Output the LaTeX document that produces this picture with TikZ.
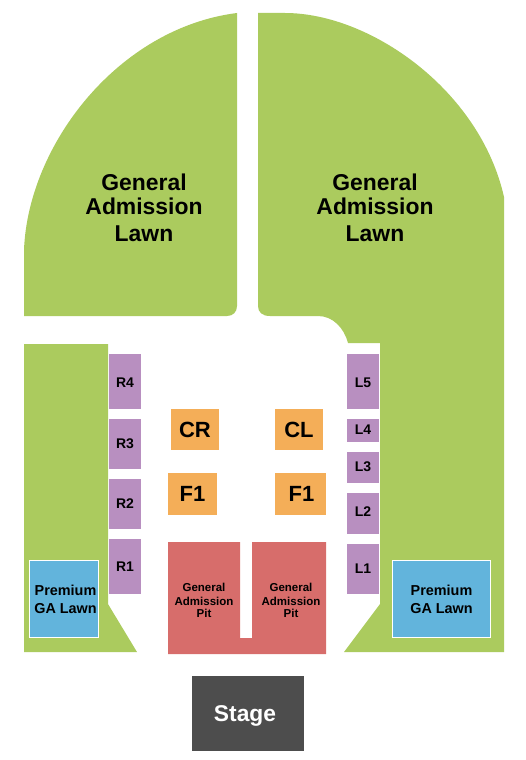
\documentclass[tikz,border=0pt]{standalone}
\usepackage{fontspec}
\setmainfont{Liberation Sans}
\usepackage{tikz}
\usetikzlibrary{positioning}
\definecolor{lawn}{HTML}{ABCB5E}
\definecolor{side}{HTML}{B88FC0}
\definecolor{club}{HTML}{F4AE58}
\definecolor{pit}{HTML}{D76D6B}
\definecolor{premium}{HTML}{62B4DC}
\definecolor{stage}{HTML}{4D4D4D}

\begin{document}
\begin{tikzpicture}[
    x=1pt, y=-1pt,
    block/.style={inner sep=0pt, outer sep=0pt, align=center, font=\bfseries},
    sect/.style={block, fill=side, minimum width=32pt, font=\fontsize{14}{16}\bfseries},
    club/.style={block, fill=club, font=\fontsize{22}{24}\bfseries},
    lawntext/.style={block, font=\fontsize{22.9}{24}\bfseries},
    pittext/.style={block, font=\fontsize{11.5}{14}\bfseries},
    prem/.style={block, fill=premium, draw=white, line width=0.7pt, minimum height=77pt, font=\fontsize{14.4}{18}\bfseries}
  ]
    \useasboundingbox (0,0) rectangle (525,760);
    % lawns
    \fill[lawn] (237,13) -- (237,306) .. controls (237,312) and (233,316) .. (227,316) -- (24,316) -- (24,250)
      .. controls (28,145) and (118,28) .. (237,13) -- cycle;
    \fill[lawn] (258,13) -- (285,13) .. controls (370,13) and (480,90) .. (504,197) -- (504,652) -- (344,652)
      -- (380,604) -- (380,343) -- (348,343) .. controls (344,328) and (333,316) .. (318,316)
      -- (270,316) .. controls (262,316) and (258,312) .. (258,306) -- cycle;
    \fill[lawn] (24,344) -- (108,344) -- (108,604) -- (137,652) -- (24,652) -- cycle;
    \node[lawntext] (lawnleft) at (144,208) {General\\Admission\\[3pt]Lawn};
    \node[lawntext] (lawnright) at (375,208) {General\\Admission\\[3pt]Lawn};
    % right and left side sections
    \node[sect, minimum height=55pt, text height=12.6pt] (r4) at (125,381.5) {R4};
    \node[sect, minimum height=50pt] (r3) at (125,444) {R3};
    \node[sect, minimum height=50pt] (r2) at (125,504) {R2};
    \node[sect, minimum height=55pt] (r1) at (125,566.5) {R1};
    \node[sect, minimum height=55pt, text height=12.6pt] (l5) at (363,381.5) {L5};
    \node[sect, minimum height=23pt, text depth=2pt] (l4) at (363,430.5) {L4};
    \node[sect, minimum height=31pt, text depth=2pt] (l3) at (363,467.5) {L3};
    \node[sect, minimum height=41pt, text depth=4pt] (l2) at (363,513.5) {L2};
    \node[sect, minimum height=50pt] (l1) at (363,569) {L1};
    % center
    \node[club, minimum width=48pt, minimum height=41pt] (cr) at (195,429.5) {CR};
    \node[club, minimum width=48pt, minimum height=41pt] (cl) at (299,429.5) {CL};
    \node[club, minimum width=49pt, minimum height=42pt] (f1left) at (192.5,494) {F1};
    \node[club, minimum width=51pt, minimum height=42pt] (f1right) at (300.5,494) {\hspace*{2pt}F1};
    % pit
    \fill[pit] (168,542) -- (240,542) -- (240,638) -- (252,638) -- (252,542) -- (326,542) -- (326,654) -- (168,654) -- cycle;
    \node[pittext] (pitleft) at (204,600) {General\\Admission\\[-2pt]Pit};
    \node[pittext] (pitright) at (291,600) {General\\Admission\\[-2pt]Pit};
    % premium
    \node[prem, minimum width=69pt] (premleft) at (64,598.5) {\rule{0pt}{12pt}\hspace*{3pt}Premium\\\hspace*{3pt}GA Lawn};
    \node[prem, minimum width=98pt] (premright) at (441.5,598.5) {\rule{0pt}{12pt}Premium\\GA Lawn};
    \node[block, fill=stage, text=white, minimum width=112pt, minimum height=75pt, text depth=0pt, font=\fontsize{22.8}{24}\bfseries] (stagebox) at (248,713.5) {Stage\hspace*{6pt}};
  \end{tikzpicture}
\end{document}
